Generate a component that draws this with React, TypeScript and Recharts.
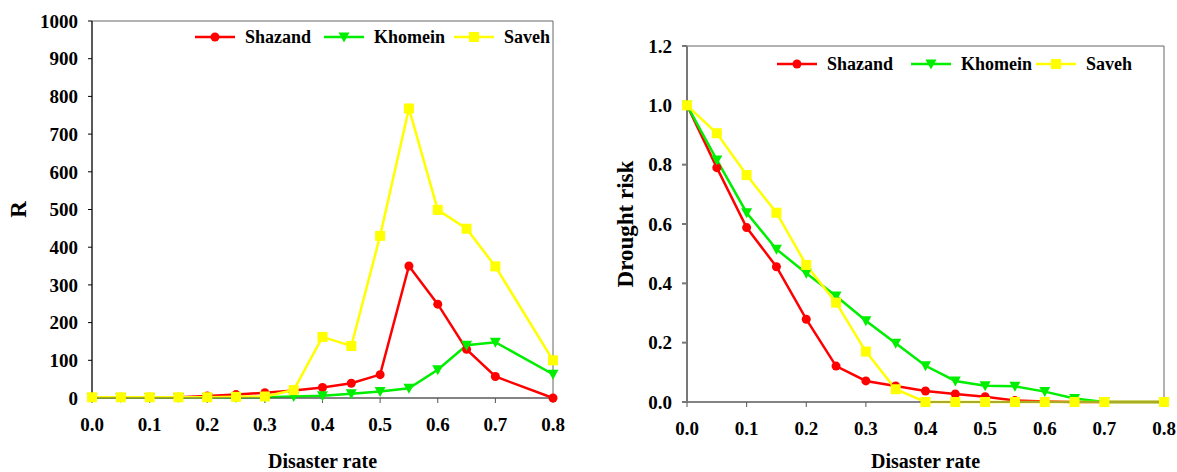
import { LineChart, Line, XAxis, YAxis, ReferenceArea } from "recharts"

// disaster rate steps (no 0.75 point in the source)
const rates = [0, 0.05, 0.1, 0.15, 0.2, 0.25, 0.3, 0.35, 0.4, 0.45, 0.5, 0.55, 0.6, 0.65, 0.7, 0.8]

// R values
const shazandR = [2, 2, 2, 2, 5, 9, 14, 20, 28, 39, 62, 350, 249, 129, 57, 0]
const khomeinR = [1, 1, 1, 1, 1, 1, 2, 4, 6, 11, 17, 26, 75, 140, 148, 63]
const savehR = [2, 2, 2, 2, 2, 3, 4, 21, 162, 138, 430, 768, 499, 449, 349, 100]

// drought risk values
const shazandRisk = [1.0, 0.79, 0.588, 0.456, 0.279, 0.121, 0.071, 0.054, 0.037, 0.027, 0.018, 0.005, 0.002, 0, 0, 0]
const khomeinRisk = [1.0, 0.816, 0.638, 0.515, 0.434, 0.357, 0.274, 0.198, 0.122, 0.071, 0.055, 0.053, 0.035, 0.012, 0, 0]
const savehRisk = [1.0, 0.906, 0.765, 0.638, 0.462, 0.335, 0.17, 0.043, 0, 0, 0, 0, 0, 0, 0, 0]

const xTicks = [0, 0.1, 0.2, 0.3, 0.4, 0.5, 0.6, 0.7, 0.8]
const rTicks = [0, 100, 200, 300, 400, 500, 600, 700, 800, 900, 1000]
const riskTicks = [0, 0.2, 0.4, 0.6, 0.8, 1.0, 1.2]

const seriesNames = ["Shazand", "Khomein", "Saveh"]

const RED = "#ff0000"
const GREEN = "#00ee00"
const YELLOW = "#ffff00"
const FONT = "'Liberation Serif', 'Times New Roman', serif"

const rData = rates.map((x, i) => ({ x, shazand: shazandR[i], khomein: khomeinR[i], saveh: savehR[i] }))
const riskData = rates.map((x, i) => ({ x, shazand: shazandRisk[i], khomein: khomeinRisk[i], saveh: savehRisk[i] }))

const circleDot = (p: any) => <circle key={`c-${p.index}`} cx={p.cx} cy={p.cy} r={4.5} fill={RED} stroke="none" />
const triDot = (p: any) => (
  <polygon
    key={`t-${p.index}`}
    points={`${p.cx - 5.5},${p.cy - 4.5} ${p.cx + 5.5},${p.cy - 4.5} ${p.cx},${p.cy + 5.5}`}
    fill={GREEN}
    stroke="none"
  />
)
const squareDot = (p: any) => <rect key={`s-${p.index}`} x={p.cx - 5} y={p.cy - 5} width={10} height={10} fill={YELLOW} stroke="none" />

const tickStyle = { fontFamily: FONT, fontWeight: "bold", fontSize: 19, fill: "#000" }

function LegendMarker({ i }: { i: number }) {
  if (i === 0) return <circle cx={20} cy={7} r={4.5} fill={RED} />
  if (i === 1) return <polygon points="14.5,2.5 25.5,2.5 20,12.5" fill={GREEN} />
  return <rect x={15} y={2} width={10} height={10} fill={YELLOW} />
}

function ChartLegend({ top, lefts }: { top: number; lefts: number[] }) {
  const colors = [RED, GREEN, YELLOW]
  return (
    <>
      {seriesNames.map((name, i) => (
        <div
          key={name}
          style={{ position: "absolute", left: lefts[i], top, display: "flex", alignItems: "center", height: 18 }}
        >
          <svg width={40} height={14}>
            <line x1={0} y1={7} x2={40} y2={7} stroke={colors[i]} strokeWidth={2.5} />
            <LegendMarker i={i} />
          </svg>
          <span style={{ marginLeft: 10, fontFamily: FONT, fontWeight: "bold", fontSize: 18, color: "#000" }}>{name}</span>
        </div>
      ))}
    </>
  )
}

const yTitle = (text: string, dx: number) => (props: any) => {
  const vb = props.viewBox
  const cx = vb.x + dx
  const cy = vb.y + vb.height / 2
  return (
    <text
      x={cx}
      y={cy}
      transform={`rotate(-90, ${cx}, ${cy})`}
      textAnchor="middle"
      style={{ fontFamily: FONT, fontWeight: "bold", fontSize: 23 }}
      fill="#000"
    >
      {text}
    </text>
  )
}

// axis title sits at the very bottom edge, as in the source
const xTitle = (props: any) => {
  const vb = props.viewBox
  return (
    <text
      x={vb.x + vb.width / 2}
      y={468}
      textAnchor="middle"
      style={{ fontFamily: FONT, fontWeight: "bold", fontSize: 20 }}
      fill="#000"
    >
      Disaster rate
    </text>
  )
}

export default function App() {
  return (
    <div style={{ position: "absolute", left: 0, top: 0, width: 1177, height: 472, background: "#fff", overflow: "hidden" }}>
      <div style={{ position: "absolute", left: 0, top: 0, width: 590, height: 472 }}>
        <LineChart width={590} height={472} data={rData} margin={{ top: 21, right: 37, bottom: 0, left: 0 }}>
          <ReferenceArea x1={0} x2={0.8} y1={0} y2={1000} fill="none" stroke="#666" strokeWidth={1} ifOverflow="visible" />
          <XAxis
            dataKey="x"
            type="number"
            domain={[0, 0.8]}
            ticks={xTicks}
            tickFormatter={(v: number) => v.toFixed(1)}
            height={74}
            tickSize={5}
            tickMargin={15}
            stroke="#555"
            tick={tickStyle}
            label={{ content: xTitle }}
          />
          <YAxis
            type="number"
            domain={[0, 1000]}
            ticks={rTicks}
            width={92}
            tickSize={4}
            tickMargin={10}
            stroke="#000"
            tick={tickStyle}
            label={{ content: yTitle("R", 26) }}
          />
          <Line dataKey="shazand" stroke={RED} strokeWidth={2.5} dot={circleDot} isAnimationActive={false} />
          <Line dataKey="khomein" stroke={GREEN} strokeWidth={2.5} dot={triDot} isAnimationActive={false} />
          <Line dataKey="saveh" stroke={YELLOW} strokeWidth={2.5} dot={squareDot} isAnimationActive={false} />
        </LineChart>
        <ChartLegend top={28} lefts={[195, 324, 454]} />
      </div>
      <div style={{ position: "absolute", left: 590, top: 0, width: 587, height: 472 }}>
        <LineChart width={587} height={472} data={riskData} margin={{ top: 46, right: 13, bottom: 0, left: 0 }}>
          <ReferenceArea x1={0} x2={0.8} y1={0} y2={1.2} fill="none" stroke="#666" strokeWidth={1} ifOverflow="visible" />
          <XAxis
            dataKey="x"
            type="number"
            domain={[0, 0.8]}
            ticks={xTicks}
            tickFormatter={(v: number) => v.toFixed(1)}
            height={70}
            tickSize={5}
            tickMargin={15}
            stroke="#555"
            tick={tickStyle}
            label={{ content: xTitle }}
          />
          <YAxis
            type="number"
            domain={[0, 1.2]}
            ticks={riskTicks}
            tickFormatter={(v: number) => v.toFixed(1)}
            width={97}
            tickSize={5}
            tickMargin={10}
            stroke="#777"
            strokeWidth={2}
            tick={tickStyle}
            label={{ content: yTitle("Drought risk", 43) }}
          />
          <Line dataKey="shazand" stroke={RED} strokeWidth={2.5} dot={circleDot} isAnimationActive={false} />
          <Line dataKey="khomein" stroke={GREEN} strokeWidth={2.5} dot={triDot} isAnimationActive={false} />
          <Line dataKey="saveh" stroke={YELLOW} strokeWidth={2.5} dot={squareDot} isAnimationActive={false} />
        </LineChart>
        <ChartLegend top={55} lefts={[187, 321, 446]} />
      </div>
    </div>
  )
}
